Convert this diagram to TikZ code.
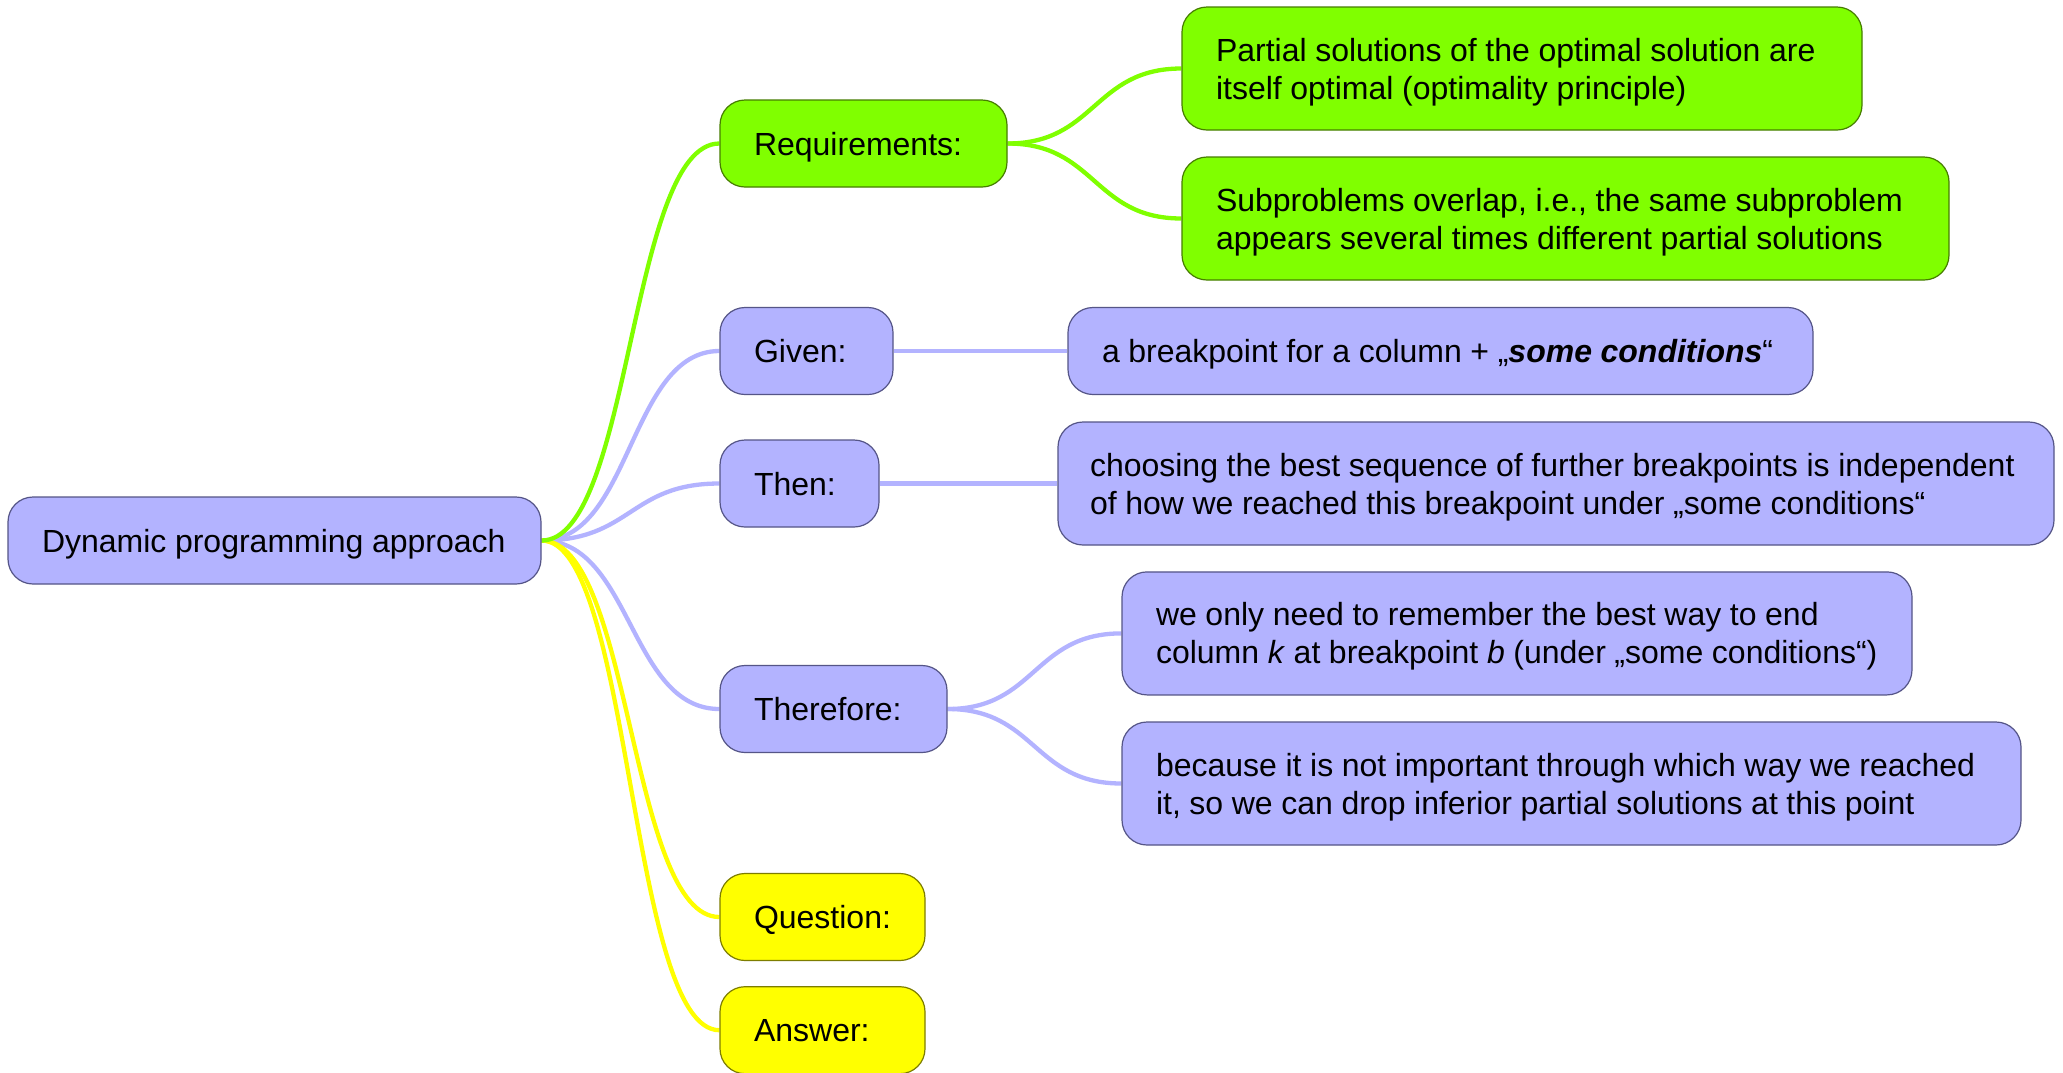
\documentclass[tikz,border=0pt]{standalone}
\usepackage{fontspec}
\setmainfont{Liberation Sans}
\usetikzlibrary{backgrounds}
\definecolor{fillblue}{RGB}{179,179,255}
\definecolor{lineblue}{RGB}{85,85,135}
\definecolor{fillgreen}{RGB}{128,255,0}
\definecolor{linegreen}{RGB}{70,125,0}
\definecolor{fillyellow}{RGB}{255,255,0}
\definecolor{lineyellow}{RGB}{125,125,0}
\newcommand\boxline[1]{\mbox{\spaceskip=8.6pt\xspaceskip=8.6pt\relax #1}}
\tikzset{
  box/.style={rectangle, rounded corners=25pt, line width=1.2pt, inner xsep=34pt, inner ysep=0pt,
    align=left, font=\fontsize{32}{38}\selectfont, text height=23pt},
  oneline/.style={box, text depth=0pt, minimum height=87pt},
  twoline/.style={box, text depth=38pt, minimum height=123pt},
  bluebox/.style={fill=fillblue, draw=lineblue},
  greenbox/.style={fill=fillgreen, draw=linegreen},
  yellowbox/.style={fill=fillyellow, draw=lineyellow},
  edge/.style={line width=4.3pt},
  blueedge/.style={edge, draw=fillblue},
  greenedge/.style={edge, draw=fillgreen},
  yellowedge/.style={edge, draw=fillyellow}
}
\begin{document}
\begin{tikzpicture}[x=1pt,y=-1pt]
\useasboundingbox (0,0) rectangle (2063,1072);
\begin{scope}[on background layer]
  \fill[white] (0,0) rectangle (2063,1072);
\end{scope}

\node[oneline, bluebox, text width=465pt] (root) at (274.5,540.5) {\boxline{Dynamic programming approach}};

\node[oneline, greenbox, text width=219pt] (req) at (863.5,143.5) {\boxline{Requirements:}};
\node[twoline, greenbox, text width=612pt] (partial) at (1522,68.5)
  {\boxline{Partial solutions of the optimal solution are}\\\boxline{itself optimal (optimality principle)}};
\node[twoline, greenbox, text width=699pt] (subp) at (1565.5,218.5)
  {\boxline{Subproblems overlap, i.e., the same subproblem}\\\boxline{appears several times different partial solutions}};

\node[oneline, bluebox, text width=105pt] (given) at (806.5,351) {\boxline{Given:}};
\node[oneline, bluebox, text width=677pt] (brk) at (1440.5,351)
  {\boxline{a breakpoint for a column + „\textbf{\textit{some conditions}}“}};

\node[oneline, bluebox, text width=91pt] (then) at (799.5,483.5) {\boxline{Then:}};
\node[twoline, bluebox, inner xsep=32pt, text width=932pt] (choosing) at (1556,483.5)
  {\boxline{choosing the best sequence of further breakpoints is independent}\\\boxline{of how we reached this breakpoint under „some conditions“}};

\node[oneline, bluebox, text width=159pt] (therefore) at (833.5,709) {\boxline{Therefore:}};
\node[twoline, bluebox, text width=722pt] (weonly) at (1517,633.4)
  {\boxline{we only need to remember the best way to end}\\\boxline{column \textit{k} at breakpoint \textit{b} (under „some conditions“)}};
\node[twoline, bluebox, text width=831pt] (because) at (1571.5,783.5)
  {\boxline{because it is not important through which way we reached}\\\boxline{it, so we can drop inferior partial solutions at this point}};

\node[oneline, yellowbox, text width=137pt] (question) at (822.5,917) {\boxline{Question:}};
\node[oneline, yellowbox, text width=137pt] (answer) at (822.5,1030.2) {\boxline{Answer:}};

\begin{scope}[on background layer]
  \draw[blueedge] (root.east) .. controls +(90,0) and +(-90,0) .. (given.west);
  \draw[blueedge] (root.east) .. controls +(90,0) and +(-90,0) .. (then.west);
  \draw[blueedge] (root.east) .. controls +(90,0) and +(-90,0) .. (therefore.west);
  \draw[yellowedge] (root.east) .. controls +(90,0) and +(-90,0) .. (question.west);
  \draw[yellowedge] (root.east) .. controls +(90,0) and +(-90,0) .. (answer.west);
  \draw[greenedge] (root.east) .. controls +(90,0) and +(-90,0) .. (req.west);

  \draw[greenedge] (req.east) .. controls +(88,0) and +(-88,0) .. (partial.west);
  \draw[greenedge] (req.east) .. controls +(88,0) and +(-88,0) .. (subp.west);
  \draw[blueedge] (given.east) -- (brk.west);
  \draw[blueedge] (then.east) -- (choosing.west);
  \draw[blueedge] (therefore.east) .. controls +(88,0) and +(-88,0) .. (weonly.west);
  \draw[blueedge] (therefore.east) .. controls +(88,0) and +(-88,0) .. (because.west);
\end{scope}
\end{tikzpicture}
\end{document}
